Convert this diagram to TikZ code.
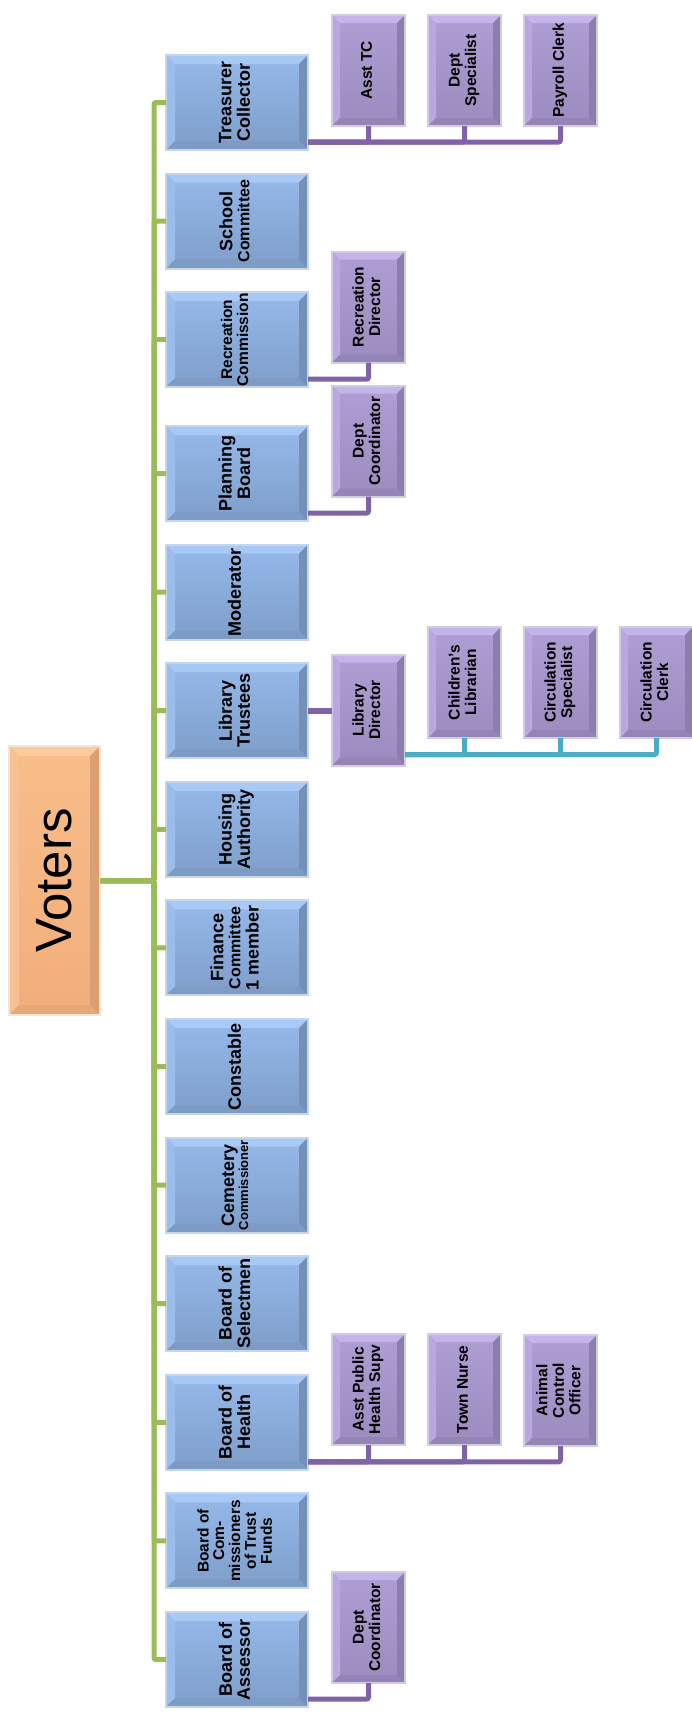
\documentclass[tikz,border=0pt]{standalone}
\usepackage{fontspec}
\setmainfont{Liberation Sans}
\usepackage{graphicx}
\usepackage{tikz}

\definecolor{bluetop}{HTML}{95B9EA}
\definecolor{bluebot}{HTML}{7E9ECA}
\definecolor{bluehi}{HTML}{A8C9F5}
\definecolor{bluehl}{HTML}{9CBDEC}
\definecolor{bluelo}{HTML}{7590B8}
\definecolor{bluelb}{HTML}{7D9BC5}
\definecolor{bluebd}{HTML}{C6D6EA}
\definecolor{lilatop}{HTML}{AE9ED3}
\definecolor{lilabot}{HTML}{9C8BBF}
\definecolor{lilahi}{HTML}{C5B4E9}
\definecolor{lilahl}{HTML}{B9A8E0}
\definecolor{lilalo}{HTML}{8D7DAC}
\definecolor{lilalb}{HTML}{9585B6}
\definecolor{lilabd}{HTML}{D3CBE3}
\definecolor{orgtop}{HTML}{F8BD8A}
\definecolor{orgbot}{HTML}{F1AE7C}
\definecolor{orghi}{HTML}{FBCB9C}
\definecolor{orghl}{HTML}{F7C090}
\definecolor{orglo}{HTML}{DBA071}
\definecolor{orglb}{HTML}{E6A877}
\definecolor{orgbd}{HTML}{F2E4D6}
\definecolor{trunkgreen}{HTML}{9BBB59}
\definecolor{subpurple}{HTML}{7F62A7}
\definecolor{libteal}{HTML}{4BACC6}

\newcommand{\vtxt}[3]{\rotatebox{90}{\fontsize{#1}{#2}\selectfont\begin{tabular}{@{}c@{}}#3\end{tabular}}}
\newcommand{\sizeto}[2]{{\fontsize{#1}{#1}\selectfont #2}}

\tikzset{
	bevel/.style n args={5}{path picture={
		\path (path picture bounding box.north west) coordinate (pnw)
			(path picture bounding box.north east) coordinate (pne)
			(path picture bounding box.south east) coordinate (pse)
			(path picture bounding box.south west) coordinate (psw);
		\fill[#1] (pnw) -- (pne) -- ([shift={(-#5,-#5)}]pne) -- ([shift={(#5,-#5)}]pnw) -- cycle;
		\fill[#2] (pnw) -- (psw) -- ([shift={(#5,#5)}]psw) -- ([shift={(#5,-#5)}]pnw) -- cycle;
		\fill[#3] (pne) -- (pse) -- ([shift={(-#5,#5)}]pse) -- ([shift={(-#5,-#5)}]pne) -- cycle;
		\fill[#4] (psw) -- (pse) -- ([shift={(-#5,#5)}]pse) -- ([shift={(#5,#5)}]psw) -- cycle;
	}},
	bluebox/.style={draw=bluebd, line width=2pt, top color=bluetop, bottom color=bluebot, minimum width=142pt, minimum height=95pt, inner sep=0pt, outer sep=0pt, font=\bfseries, bevel={bluehi}{bluehl}{bluelo}{bluelb}{9pt}},
	lilabox/.style={draw=lilabd, line width=2pt, top color=lilatop, bottom color=lilabot, minimum width=73pt, minimum height=111pt, inner sep=0pt, outer sep=0pt, font=\bfseries, bevel={lilahi}{lilahl}{lilalo}{lilalb}{8pt}},
	voterbox/.style={draw=orgbd, line width=2pt, top color=orgtop, bottom color=orgbot, minimum width=91pt, minimum height=269pt, inner sep=0pt, outer sep=0pt, bevel={orghi}{orghl}{orglo}{orglb}{10pt}},
	trunkline/.style={draw=trunkgreen, line width=5pt, rounded corners=2pt},
	subline/.style={draw=subpurple, line width=5pt, rounded corners=2pt},
	libline/.style={draw=libteal, line width=5pt, rounded corners=2pt}
}

\begin{document}
\begin{tikzpicture}[x=1pt,y=-1pt]
	\useasboundingbox (0,0) rectangle (692,1713);
	
	\node[voterbox] (voters) at (54.5,880.5) {\rotatebox{90}{\fontsize{51}{51}\selectfont Voters}};
	
	\foreach \y/\nm/\fsz/\lsk/\txt in {
		102.5/treas/18/18/Treasurer\\Collector,
		221.1/school/18/17/School\\\sizeto{16}{Committee},
		339.7/recr/15.5/16/Recreation\\Commission,
		473.5/plan/18/18/Planning\\Board,
		592.1/moder/18/18/Moderator,
		710.7/libtr/18/18/Library\\Trustees,
		829.3/hous/18/18/Housing\\Authority,
		947.9/finc/18/17/Finance\\\sizeto{16}{Committee}\\1 member,
		1066.5/const/18/18/Constable,
		1185.1/cemet/18/14/Cemetery\\\sizeto{13}{Commissioner},
		1303.7/selm/18/18/Board of\\Selectmen,
		1422.3/health/18/18/Board of\\Health,
		1540.9/trust/15.5/15.5/Board of\\Com-\\missioners\\of Trust\\Funds,
		1659.5/assess/18/18/Board of\\Assessor}
	{
		\node[bluebox] (\nm) at (237,\y) {\vtxt{\fsz}{\lsk}{\txt}};
		\draw[trunkline] (voters.east) -- ++(54,0) |- (\nm.west);
	};
	
	\foreach \x/\y/\nm/\txt in {
		368.5/70.5/asstc/Asst TC,
		464.5/70.5/deptsp/Dept\\Specialist,
		560.5/70.5/payclk/Payroll Clerk,
		368.5/307/recdir/Recreation\\Director,
		368.5/441/plancoord/Dept\\Coordinator,
		368.5/710/libdir/Library\\Director,
		464.5/682.5/chlib/Children’s\\Librarian,
		560.5/682.5/circsp/Circulation\\Specialist,
		656.5/682.5/circlk/Circulation\\Clerk,
		368.5/1389.5/asstph/Asst Public\\Health Supv,
		464.5/1389.5/nurse/Town Nurse,
		560.5/1390.5/animal/Animal\\Control\\Officer,
		368.5/1627.5/asscoord/Dept\\Coordinator}
	{
		\node[lilabox] (\nm) at (\x,\y) {\vtxt{15.5}{16.5}{\txt}};
	};
	
	\foreach \p/\c in {treas/asstc, treas/deptsp, treas/payclk, recr/recdir, plan/plancoord, health/asstph, health/nurse, health/animal, assess/asscoord}
		\draw[subline] ([yshift=8pt]\p.south east) -| (\c.south);
	\draw[subline, line width=6pt] (libtr.east) -- (libtr.east -| libdir.west);
	\foreach \c in {chlib, circsp, circlk}
		\draw[libline] ([yshift=11pt]libdir.south east) -| (\c.south);
	
\end{tikzpicture}
\end{document}
